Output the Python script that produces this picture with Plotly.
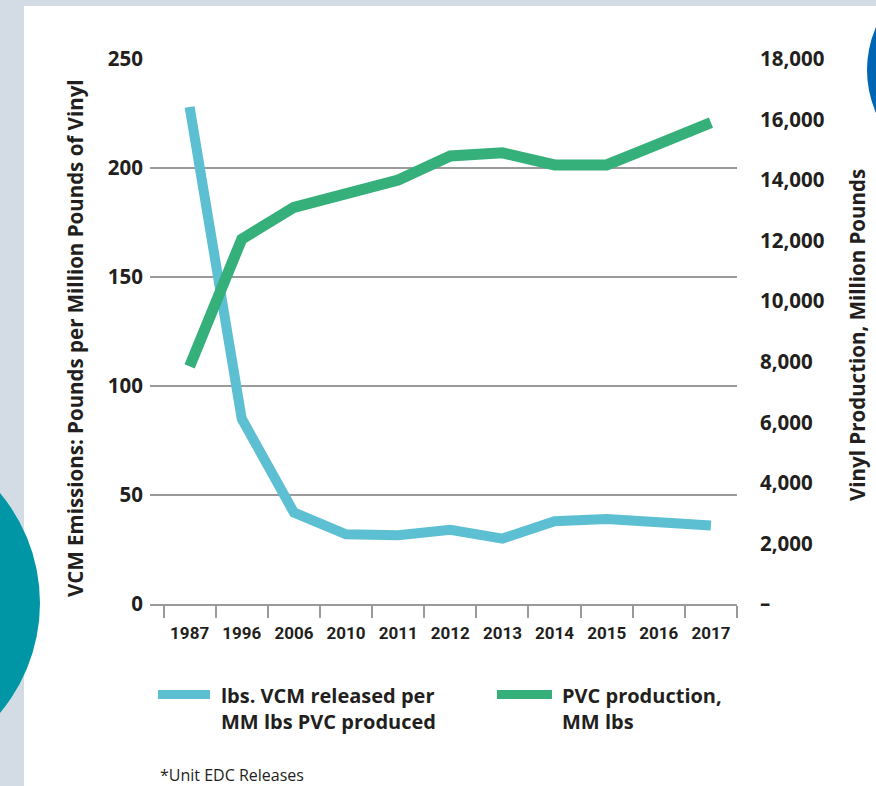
import plotly.graph_objects as go

years = ["1987", "1996", "2006", "2010", "2011", "2012", "2013", "2014", "2015", "2016", "2017"]
vcm_released = [228, 85, 42, 32, 31.5, 34, 30, 38, 39, 37.5, 36]
pvc_production = [7850, 12050, 13100, 13550, 14000, 14800, 14900, 14500, 14500, 15200, 15900]
left_ticks = [0, 50, 100, 150, 200, 250]
right_ticks = [0, 2000, 4000, 6000, 8000, 10000, 12000, 14000, 16000, 18000]
right_labels = ["–", "2,000", "4,000", "6,000", "8,000", "10,000", "12,000", "14,000", "16,000", "18,000"]

W, H = 876, 786
L, R, T, B = 150, 737, 59, 604
CYAN = "#5dbfd2"
GREEN = "#35b07a"
TXT = "#231f20"
FONT = "Open Sans"


def px(x):
    return (x - L) / (R - L)


def py(y):
    return (B - y) / (B - T)


fig = go.Figure()
fig.add_trace(go.Scatter(x=years, y=vcm_released, mode="lines", name="lbs. VCM released per MM lbs PVC produced",
                         line=dict(color=CYAN, width=10), yaxis="y", showlegend=False))
fig.add_trace(go.Scatter(x=years, y=pvc_production, mode="lines", name="PVC production, MM lbs",
                         line=dict(color=GREEN, width=11), yaxis="y2", showlegend=False))

shapes = [
    dict(type="rect", xref="paper", yref="paper", x0=px(24), x1=px(W + 5), y0=py(6), y1=py(H + 5),
         fillcolor="white", line=dict(width=0), layer="below"),
    dict(type="circle", xref="paper", yref="paper", x0=px(-131 - 171), x1=px(-131 + 171),
         y0=py(603 + 171), y1=py(603 - 171), fillcolor="#0096a6", line=dict(width=0), layer="below"),
    dict(type="circle", xref="paper", yref="paper", x0=px(974 - 107), x1=px(974 + 107),
         y0=py(70 + 107), y1=py(70 - 107), fillcolor="#0066b3", line=dict(width=0), layer="below"),
    # legend swatches
    dict(type="line", xref="paper", yref="paper", x0=px(158), x1=px(210), y0=py(694.5), y1=py(694.5),
         line=dict(color=CYAN, width=9)),
    dict(type="line", xref="paper", yref="paper", x0=px(497), x1=px(552), y0=py(694.5), y1=py(694.5),
         line=dict(color=GREEN, width=9)),
]

annotations = [
    dict(text="VCM Emissions: Pounds per Million Pounds of Vinyl", xref="paper", yref="paper",
         x=px(75), y=py(338), textangle=-90, showarrow=False, xanchor="center", yanchor="middle",
         font=dict(family=FONT, size=20.5, color=TXT, weight=700)),
    dict(text="Vinyl Production, Million Pounds", xref="paper", yref="paper",
         x=px(857), y=py(335), textangle=-90, showarrow=False, xanchor="center", yanchor="middle",
         font=dict(family=FONT, size=20.5, color=TXT, weight=700)),
    dict(text="lbs. VCM released per<br>MM lbs PVC produced", xref="paper", yref="paper",
         x=px(219), y=py(680), showarrow=False, xanchor="left", yanchor="top", align="left",
         font=dict(family=FONT, size=20, color=TXT, weight=700)),
    dict(text="PVC production,<br>MM lbs", xref="paper", yref="paper",
         x=px(560), y=py(680), showarrow=False, xanchor="left", yanchor="top", align="left",
         font=dict(family=FONT, size=20, color=TXT, weight=700)),
    dict(text="*Unit EDC Releases", xref="paper", yref="paper",
         x=px(158), y=py(775), showarrow=False, xanchor="left", yanchor="middle",
         font=dict(family=FONT, size=16, color=TXT)),
]

fig.update_layout(
    width=W, height=H,
    margin=dict(l=L, r=W - R, t=T, b=H - B, autoexpand=False),
    paper_bgcolor="#d3dce4",
    plot_bgcolor="rgba(0,0,0,0)",
    shapes=shapes,
    annotations=annotations,
    showlegend=False,
    xaxis=dict(type="category", range=[-0.76, 10.5], tickson="boundaries", ticks="outside", ticklen=12,
               tickwidth=2, tickcolor="#9a9a9a", showline=True, linecolor="#9a9a9a", linewidth=2,
               showgrid=False, ticklabelstandoff=13, tickangle=0,
               tickfont=dict(family="Roboto", size=17, color=TXT, weight=700)),
    yaxis=dict(range=[0, 250], tickvals=left_ticks, showgrid=True, gridcolor="#9a9a9a", gridwidth=2,
               zeroline=False, ticks="", ticklabelstandoff=6,
               tickfont=dict(family=FONT, size=20.5, color=TXT, weight=700)),
    yaxis2=dict(range=[0, 18000], overlaying="y", side="right", tickvals=right_ticks, ticktext=right_labels,
                showgrid=False, zeroline=False, ticks="", ticklabelstandoff=22,
                tickfont=dict(family=FONT, size=20.5, color=TXT, weight=700)),
)

fig.write_html("out.html", config={"displayModeBar": False},
               post_script="document.body.style.margin='0';document.body.style.overflow='hidden';")
